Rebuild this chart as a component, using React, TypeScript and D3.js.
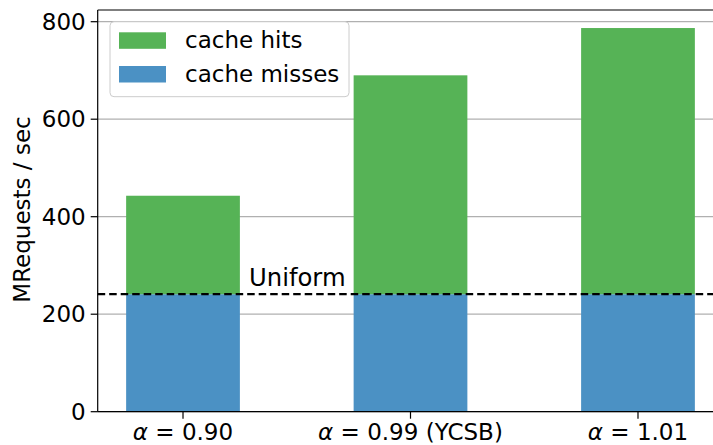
import React from "react";
import * as d3 from "d3";

const categories = ["0.90", "0.99 (YCSB)", "1.01"];
const totals = [443, 690, 787];
const misses = [241, 241, 241];
const uniformLevel = 241;
const yTicks = [0, 200, 400, 600, 800];
const seriesNames = ["cache hits", "cache misses"];
const colors = ["#56b356", "#4b91c4"];

const W = 713, H = 445;
const left = 97.7, top = 10, bottom = 411.7, right = 723.3;
const FONT = "DejaVu Sans, sans-serif";

export default function App() {
  const x = d3.scaleLinear().domain([-0.375, 2.375]).range([left, right]);
  const y = d3.scaleLinear().domain([0, 824]).range([bottom, top]);
  const bw = x(0.5) - x(0);
  return (
    <svg width={W} height={H} style={{ position: "absolute", left: 0, top: 0 }} fontFamily={FONT}>
      <rect x={0} y={0} width={W} height={H} fill="white" />
      {yTicks.map((t) => (
        <line key={"g" + t} x1={left} x2={right} y1={y(t)} y2={y(t)} stroke="#b0b0b0" strokeWidth={1.2} />
      ))}
      {categories.map((c, i) => (
        <g key={c}>
          <rect x={x(i) - bw / 2} width={bw} y={y(misses[i])} height={y(0) - y(misses[i])} fill={colors[1]} />
          <rect x={x(i) - bw / 2} width={bw} y={y(totals[i])} height={y(misses[i]) - y(totals[i])} fill={colors[0]} />
        </g>
      ))}
      <line x1={left} x2={right} y1={y(uniformLevel)} y2={y(uniformLevel)} stroke="black" strokeWidth={2.2} strokeDasharray="7.5,4" />
      <text x={x(0.29)} y={y(258)} fontSize={24.3} fill="black">Uniform</text>
      {/* spines */}
      <line x1={left} x2={left} y1={top} y2={bottom} stroke="black" strokeWidth={1.2} />
      <line x1={left} x2={right} y1={bottom} y2={bottom} stroke="black" strokeWidth={1.2} />
      <line x1={left} x2={right} y1={top} y2={top} stroke="black" strokeWidth={1.2} />
      {yTicks.map((t) => (
        <g key={"t" + t}>
          <line x1={left - 7} x2={left} y1={y(t)} y2={y(t)} stroke="black" strokeWidth={1.2} />
          <text x={left - 12} y={y(t)} dy="0.36em" textAnchor="end" fontSize={23}>{t}</text>
        </g>
      ))}
      {categories.map((c, i) => (
        <g key={"x" + c}>
          <line x1={x(i)} x2={x(i)} y1={bottom} y2={bottom + 7} stroke="black" strokeWidth={1.2} />
          <text x={x(i)} y={440} textAnchor="middle" fontSize={23}>
            <tspan fontStyle="italic">α</tspan>{" = " + c}
          </text>
        </g>
      ))}
      <text transform={`translate(30,${(115 + 304) / 2}) rotate(-90)`} textAnchor="middle" fontSize={23}>MRequests / sec</text>
      {/* legend */}
      <rect x={110} y={21.7} width={239} height={75} rx={4} fill="white" fillOpacity={0.8} stroke="#cccccc" strokeWidth={1} />
      {seriesNames.map((s, i) => (
        <g key={s}>
          <rect x={119} y={32.3 + i * 33.7} width={47} height={16.5} fill={colors[i]} />
          <text x={185} y={48 + i * 33.7} fontSize={23}>{s}</text>
        </g>
      ))}
    </svg>
  );
}
